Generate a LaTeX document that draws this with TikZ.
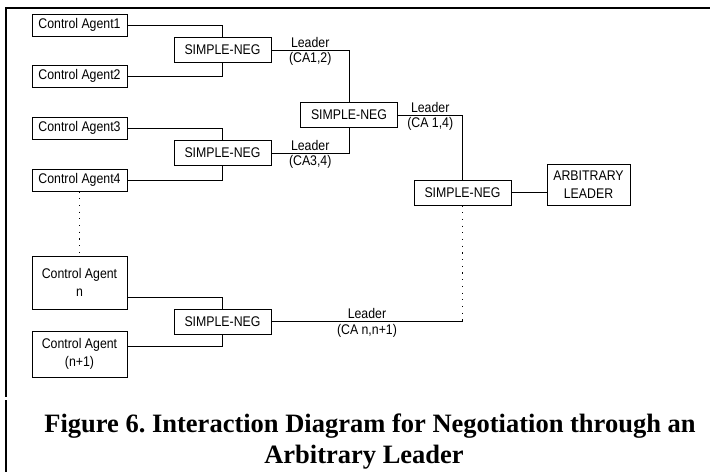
\documentclass[tikz,border=0pt]{standalone}
\usepackage{fontspec}
\newfontfamily\diagfont[FakeStretch=0.88]{Liberation Sans}
\newfontfamily\capfont{Liberation Serif}
\frenchspacing
\begin{document}
\begin{tikzpicture}[x=1pt,y=-1pt,
    agent/.style={draw,line width=0.9pt,minimum width=95pt,minimum height=22pt,inner sep=0pt,align=center,font=\diagfont\fontsize{14}{18}\selectfont},
    neg/.style={draw,line width=0.9pt,minimum width=97pt,minimum height=25pt,inner sep=0pt,align=center,font=\diagfont\fontsize{14}{18}\selectfont},
    lbl/.style={inner sep=2pt,font=\diagfont\fontsize{14}{15}\selectfont},
    link/.style={line width=0.8pt},
    dotline/.style={line width=1.2pt,dash pattern=on 1.2pt off 5.5pt},
    figcap/.style={anchor=base,inner sep=0pt,font=\capfont\bfseries\fontsize{26.5}{31}\selectfont}]
        \useasboundingbox (0,0) rectangle (710,472);

        % column rules
        \draw[line width=2.5pt] (710,8) -- (6,8) -- (6,397);
        \draw[line width=2pt] (6,400) -- (6,472);

        \node[agent] (ca1) at (79.5,25) {Control Agent1};
        \node[agent] (ca2) at (79.5,76) {Control Agent2};
        \node[agent] (ca3) at (79.5,128) {Control Agent3};
        \node[agent] (ca4) at (79.5,180) {Control Agent4};
        \node[agent,minimum height=53pt] (can) at (79.5,282.5) {Control Agent\\n};
        \node[agent,minimum height=46pt] (canext) at (79.5,354) {Control Agent\\(n+1)};

        \node[neg] (sn1) at (222.5,50) {SIMPLE-NEG};
        \node[neg] (sn2) at (222.5,153) {SIMPLE-NEG};
        \node[neg] (sn3) at (349,115) {SIMPLE-NEG};
        \node[neg] (sn4) at (222.5,321.5) {SIMPLE-NEG};
        \node[neg] (sn5) at (462.5,192.5) {SIMPLE-NEG};
        \node[neg,minimum width=83pt,minimum height=41pt] (arb) at (588.5,184.5) {ARBITRARY\\LEADER};

        \coordinate (join) at (sn5 |- sn4);

        \draw[link] (ca1) -| (sn1);
        \draw[link] (ca2) -| (sn1);
        \draw[link] (ca3) -| (sn2);
        \draw[link] (ca4) -| (sn2);
        \draw[link] ([yshift=12pt]can.south east) -| (sn4);
        \draw[link] ([yshift=-16pt]canext.north east) -| (sn4);

        \draw[link] (sn1) -- node[lbl,above]{Leader} node[lbl,below]{(CA1,2)} (sn1 -| sn3) -- (sn3);
        \draw[link] (sn2) -- node[lbl,above]{Leader} node[lbl,below]{(CA3,4)} (sn2 -| sn3) -- (sn3);
        \draw[link] (sn3) -- node[lbl,above]{Leader} node[lbl,below]{(CA 1,4)} (sn3 -| sn5) -- (sn5);
        \draw[link] (sn4) -- node[lbl,above]{Leader} node[lbl,below]{(CA n,n+1)} (join);
        \draw[link] (sn5) -- (sn5 -| arb.west);

        \draw[dotline] (ca4) -- (can);
        \draw[dotline] (sn5) -- (join);

        \node[figcap] (cap1) at (370,432) {Figure 6. Interaction Diagram for Negotiation through an};
        \node[figcap] (cap2) at (364,463) {Arbitrary Leader};
      \end{tikzpicture}
\end{document}
